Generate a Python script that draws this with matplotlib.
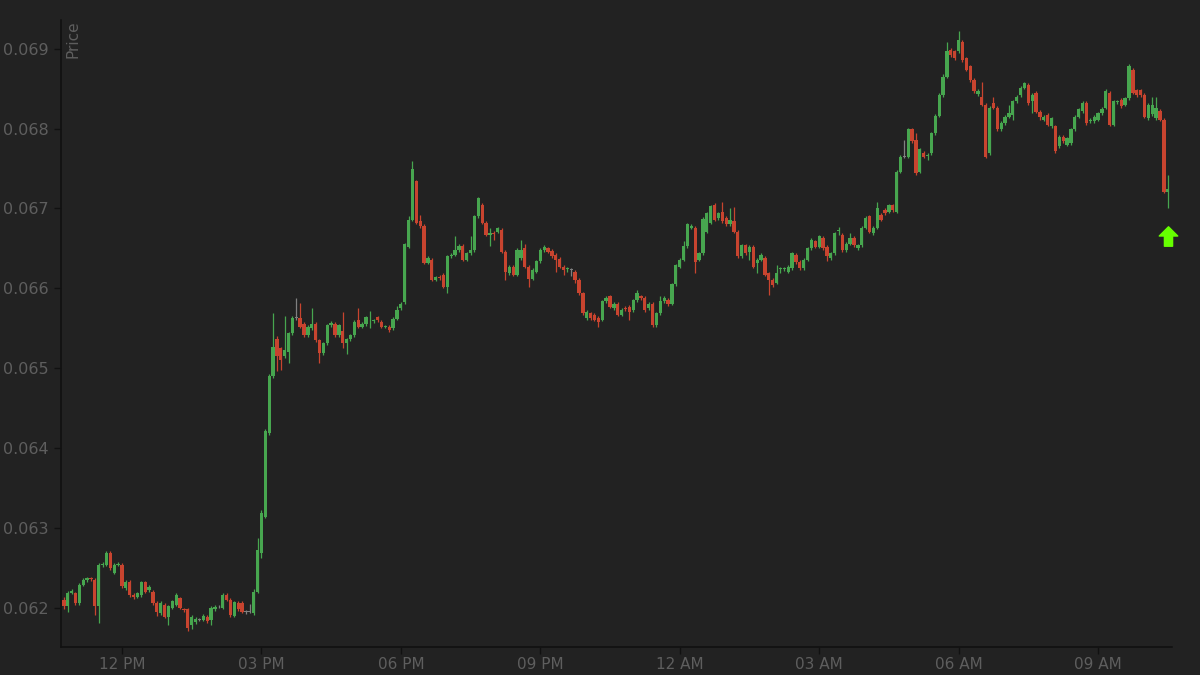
import matplotlib
matplotlib.use("Agg")
import matplotlib.pyplot as plt
import matplotlib.dates as mdates
from matplotlib.path import Path
import numpy as np
import pandas as pd

# 5-minute candles, prices in units of 0.00001
start_time = "2024-03-11 10:45"
opens = [
    6210, 6202, 6219, 6218, 6206, 6229, 6235, 6237, 6235, 6202,
    6254, 6254, 6269, 6244, 6254, 6254, 6225, 6233, 6216, 6214,
    6216, 6232, 6222, 6220, 6206, 6193, 6204, 6189, 6200, 6204,
    6212, 6198, 6198, 6179, 6182, 6185, 6185, 6189, 6185, 6198,
    6202, 6200, 6216, 6210, 6190, 6206, 6206, 6195, 6195, 6193,
    6220, 6269, 6314, 6419, 6490, 6536, 6525, 6515, 6520, 6544,
    6563, 6563, 6556, 6541, 6550, 6556, 6535, 6519, 6531, 6554,
    6556, 6541, 6547, 6532, 6536, 6541, 6560, 6552, 6555, 6560,
    6559, 6564, 6558, 6552, 6552, 6550, 6562, 6575, 6583, 6652,
    6686, 6734, 6684, 6678, 6632, 6636, 6611, 6614, 6617,
    6602, 6640, 6642, 6648, 6653, 6636, 6644, 6648, 6690, 6705,
    6682, 6667, 6669, 6671, 6673, 6646, 6619, 6627, 6617, 6638,
    6650, 6627, 6612, 6621, 6634, 6648, 6650, 6647, 6642,
    6637, 6627, 6624, 6623, 6621, 6611, 6594, 6563, 6569, 6567,
    6563, 6561, 6584, 6590, 6575, 6581, 6567, 6575, 6577, 6573,
    6585, 6590, 6588, 6575, 6581, 6554, 6569, 6584, 6586, 6581,
    6605, 6627, 6636, 6653, 6676, 6676, 6636, 6644, 6671, 6682,
    6705, 6688, 6696, 6688, 6680, 6684, 6671, 6640, 6654, 6646,
    6652, 6632, 6636, 6638, 6619, 6611, 6607, 6624, 6624, 6621,
    6625, 6642, 6633, 6625, 6636, 6650, 6659, 6652, 6663, 6652,
    6638, 6644, 6672, 6667, 6648, 6656, 6663, 6650, 6654, 6676,
    6690, 6669, 6676, 6692, 6698, 6696, 6704, 6696, 6746,
    6765, 6765, 6799, 6786, 6746, 6770, 6766, 6769, 6794, 6816,
    6842, 6865, 6899, 6897, 6897, 6909, 6888, 6878, 6861, 6843,
    6840, 6830, 6769, 6832, 6826, 6799, 6807, 6815, 6817, 6834,
    6842, 6851, 6855, 6834, 6845, 6821, 6811, 6817, 6803, 6803,
    6778, 6790, 6780, 6782, 6799, 6815, 6822, 6832, 6810, 6809,
    6811, 6819, 6826, 6845, 6805, 6833, 6836, 6830, 6838, 6874,
    6848, 6848, 6842, 6813, 6818, 6813, 6822, 6811, 6721,
]
highs = [
    6213, 6221, 6224, 6220, 6231, 6237, 6239, 6239, 6237, 6256,
    6257, 6271, 6271, 6256, 6258, 6256, 6235, 6235, 6218, 6220,
    6234, 6234, 6229, 6222, 6208, 6208, 6206, 6204, 6210, 6218,
    6214, 6200, 6200, 6191, 6188, 6187, 6192, 6191, 6202, 6203,
    6204, 6218, 6218, 6212, 6209, 6208, 6208, 6197, 6205, 6223,
    6288, 6322, 6424, 6493, 6569, 6540, 6527, 6565, 6546, 6565,
    6588, 6582, 6558, 6554, 6575, 6558, 6537, 6533, 6556, 6559,
    6558, 6556, 6571, 6538, 6543, 6560, 6575, 6558, 6566, 6572,
    6562, 6566, 6560, 6554, 6554, 6564, 6578, 6583, 6657, 6690,
    6759, 6736, 6692, 6680, 6640, 6638, 6616, 6617, 6619,
    6642, 6644, 6665, 6655, 6655, 6646, 6665, 6692, 6715, 6707,
    6684, 6675, 6672, 6677, 6675, 6648, 6629, 6629, 6650, 6661,
    6656, 6629, 6625, 6636, 6650, 6654, 6652, 6649, 6644,
    6639, 6629, 6627, 6626, 6623, 6613, 6596, 6573, 6571, 6569,
    6565, 6586, 6591, 6592, 6583, 6583, 6575, 6578, 6579, 6587,
    6598, 6592, 6590, 6583, 6583, 6571, 6590, 6590, 6588, 6607,
    6631, 6638, 6659, 6682, 6681, 6678, 6646, 6689, 6696, 6705,
    6707, 6696, 6708, 6690, 6700, 6702, 6673, 6656, 6656, 6654,
    6654, 6638, 6644, 6640, 6621, 6613, 6629, 6627, 6627, 6629,
    6646, 6644, 6635, 6638, 6652, 6663, 6661, 6667, 6665, 6654,
    6646, 6671, 6677, 6669, 6658, 6669, 6665, 6656, 6678, 6690,
    6692, 6678, 6708, 6694, 6700, 6706, 6706, 6748, 6767,
    6786, 6801, 6801, 6794, 6776, 6772, 6769, 6796, 6818, 6844,
    6869, 6909, 6901, 6899, 6922, 6911, 6890, 6880, 6863, 6849,
    6859, 6832, 6828, 6840, 6828, 6809, 6817, 6830, 6836, 6842,
    6853, 6859, 6857, 6844, 6847, 6823, 6817, 6819, 6815, 6805,
    6792, 6792, 6790, 6801, 6817, 6826, 6834, 6834, 6813, 6817,
    6821, 6827, 6849, 6847, 6836, 6836, 6838, 6840, 6881, 6876,
    6850, 6850, 6844, 6832, 6840, 6840, 6824, 6813, 6742,
]
lows = [
    6199, 6195, 6217, 6204, 6204, 6227, 6233, 6234, 6191, 6181,
    6251, 6252, 6248, 6242, 6252, 6225, 6222, 6214, 6211, 6212,
    6214, 6218, 6220, 6204, 6190, 6191, 6187, 6179, 6198, 6202,
    6198, 6195, 6171, 6174, 6180, 6183, 6183, 6181, 6179, 6196,
    6200, 6198, 6208, 6189, 6188, 6196, 6193, 6192, 6193, 6191,
    6218, 6262, 6312, 6417, 6488, 6496, 6498, 6513, 6507, 6542,
    6560, 6550, 6539, 6539, 6548, 6533, 6507, 6517, 6529, 6552,
    6539, 6539, 6525, 6518, 6534, 6539, 6550, 6550, 6553, 6551,
    6557, 6558, 6550, 6550, 6546, 6548, 6560, 6573, 6581, 6650,
    6684, 6680, 6676, 6630, 6630, 6609, 6609, 6611, 6600,
    6594, 6638, 6640, 6646, 6634, 6634, 6642, 6646, 6688, 6680,
    6665, 6653, 6661, 6669, 6644, 6611, 6617, 6615, 6615, 6636,
    6625, 6602, 6610, 6619, 6632, 6646, 6644, 6638, 6621,
    6625, 6617, 6621, 6615, 6607, 6592, 6567, 6561, 6561, 6559,
    6552, 6559, 6582, 6575, 6573, 6565, 6565, 6572, 6560, 6571,
    6583, 6586, 6571, 6573, 6552, 6552, 6567, 6582, 6578, 6579,
    6603, 6625, 6634, 6651, 6674, 6619, 6634, 6642, 6669, 6680,
    6684, 6686, 6682, 6678, 6678, 6669, 6638, 6638, 6642, 6636,
    6625, 6619, 6634, 6615, 6592, 6602, 6605, 6619, 6622, 6619,
    6623, 6631, 6623, 6623, 6634, 6648, 6650, 6650, 6648, 6634,
    6636, 6642, 6667, 6646, 6646, 6654, 6652, 6648, 6652, 6674,
    6669, 6667, 6674, 6684, 6692, 6694, 6696, 6694, 6744,
    6763, 6763, 6782, 6742, 6744, 6763, 6761, 6767, 6792, 6814,
    6840, 6863, 6890, 6886, 6895, 6884, 6872, 6859, 6845, 6841,
    6828, 6763, 6767, 6824, 6797, 6797, 6805, 6813, 6811, 6832,
    6840, 6849, 6830, 6820, 6819, 6811, 6809, 6803, 6801, 6770,
    6776, 6782, 6778, 6780, 6797, 6813, 6820, 6805, 6807, 6807,
    6809, 6817, 6824, 6803, 6803, 6831, 6826, 6828, 6836, 6843,
    6840, 6840, 6813, 6811, 6816, 6811, 6809, 6719, 6700,
]
closes = [
    6202, 6219, 6221, 6206, 6229, 6235, 6237, 6236, 6202, 6254,
    6255, 6269, 6250, 6254, 6255, 6227, 6233, 6216, 6214, 6218,
    6232, 6220, 6226, 6206, 6195, 6206, 6189, 6202, 6208, 6216,
    6200, 6197, 6175, 6189, 6186, 6185, 6190, 6183, 6200, 6201,
    6202, 6216, 6210, 6191, 6207, 6198, 6195, 6195, 6195, 6220,
    6273, 6319, 6421, 6490, 6527, 6515, 6510, 6523, 6544, 6563,
    6563, 6552, 6541, 6552, 6556, 6535, 6519, 6531, 6554, 6557,
    6541, 6554, 6532, 6536, 6541, 6558, 6552, 6556, 6564, 6561,
    6560, 6560, 6552, 6553, 6548, 6562, 6573, 6581, 6655, 6686,
    6749, 6682, 6678, 6632, 6638, 6611, 6614, 6613, 6602,
    6640, 6642, 6648, 6653, 6636, 6644, 6648, 6690, 6713, 6682,
    6667, 6669, 6668, 6675, 6646, 6621, 6627, 6617, 6648, 6648,
    6627, 6612, 6623, 6634, 6648, 6652, 6646, 6640, 6636,
    6627, 6623, 6625, 6623, 6611, 6594, 6569, 6571, 6563, 6561,
    6558, 6584, 6588, 6577, 6581, 6567, 6573, 6574, 6571, 6585,
    6594, 6588, 6573, 6581, 6554, 6569, 6584, 6588, 6580, 6605,
    6629, 6636, 6653, 6680, 6678, 6633, 6644, 6687, 6694, 6703,
    6686, 6694, 6684, 6680, 6686, 6671, 6640, 6654, 6644, 6652,
    6627, 6636, 6642, 6617, 6611, 6604, 6619, 6625, 6625, 6627,
    6644, 6633, 6625, 6636, 6650, 6661, 6652, 6665, 6650, 6640,
    6644, 6669, 6673, 6648, 6656, 6663, 6654, 6654, 6676, 6688,
    6671, 6676, 6700, 6686, 6694, 6704, 6698, 6746, 6765,
    6765, 6799, 6784, 6744, 6774, 6765, 6767, 6794, 6816, 6842,
    6865, 6897, 6892, 6888, 6911, 6886, 6874, 6861, 6847, 6847,
    6830, 6765, 6826, 6826, 6799, 6807, 6815, 6819, 6834, 6840,
    6851, 6857, 6832, 6842, 6821, 6815, 6815, 6805, 6813, 6772,
    6790, 6784, 6788, 6799, 6815, 6824, 6832, 6807, 6811, 6815,
    6819, 6825, 6847, 6805, 6834, 6834, 6828, 6838, 6878, 6845,
    6842, 6842, 6815, 6830, 6830, 6826, 6811, 6721, 6725,
]
arrow_price = 6666
y_ticks = [0.062, 0.063, 0.064, 0.065, 0.066, 0.067, 0.068, 0.069]

bg = "#222222"
up_col = "#47a64f"
down_col = "#c8442f"
flat_col = "#808080"
text_col = "#5e5e5e"

o = np.array(opens) / 1e5
h = np.array(highs) / 1e5
l = np.array(lows) / 1e5
c = np.array(closes) / 1e5
times = pd.date_range(start_time, periods=len(c), freq="5min")
x = mdates.date2num(times.to_pydatetime())
step = 5 / (24 * 60)

cols = np.where(c > o, up_col, np.where(c < o, down_col, flat_col))

fig = plt.figure(figsize=(12, 6.75), dpi=100, facecolor=bg)
ax = fig.add_axes([61 / 1200, 28 / 675, 1111 / 1200, 627 / 675])
ax.set_facecolor(bg)

ax.vlines(x, l, h, colors=cols, linewidth=0.9)
body = np.maximum(np.abs(c - o), 0.000008)
ax.bar(x, body, bottom=np.minimum(o, c), width=step * 0.85,
       color=cols, linewidth=0, align="center")

# green arrow marker below the last candle
arrow = Path([(0, 1), (-0.95, 0.05), (-0.42, 0.05), (-0.42, -1),
              (0.42, -1), (0.42, 0.05), (0.95, 0.05), (0, 1)],
             [Path.MOVETO] + [Path.LINETO] * 6 + [Path.CLOSEPOLY])
ax.plot([x[-1]], [arrow_price / 1e5], marker=arrow, markersize=14,
        color="#66ff00", linestyle="none", clip_on=False, zorder=5)

t0 = pd.Timestamp(start_time)
ax.set_xlim(mdates.date2num(t0 - pd.Timedelta(minutes=3.7)),
            mdates.date2num(t0 + pd.Timedelta(hours=23, minutes=50.5)))
ax.set_ylim(0.06151, 0.06936)

ax.xaxis.set_major_locator(mdates.HourLocator(byhour=[0, 3, 6, 9, 12, 15, 18, 21]))
ax.xaxis.set_major_formatter(mdates.DateFormatter("%I %p"))
ax.set_yticks(y_ticks)
ax.set_yticklabels(["%.3f" % v for v in y_ticks])

for s in ["top", "right"]:
    ax.spines[s].set_visible(False)
for s in ["left", "bottom"]:
    ax.spines[s].set_color("#111111")
    ax.spines[s].set_linewidth(1.2)
ax.tick_params(colors="#111111", labelcolor=text_col, length=5, width=1)
ax.tick_params(axis="y", labelsize=11.5, pad=4)
ax.tick_params(axis="x", labelsize=11, pad=2)

ax.text(0.004, 1.0, "Price", rotation=90, transform=ax.transAxes,
        ha="left", va="top", color=text_col, fontsize=11)

fig.savefig("out.png", dpi=100, facecolor=bg)
